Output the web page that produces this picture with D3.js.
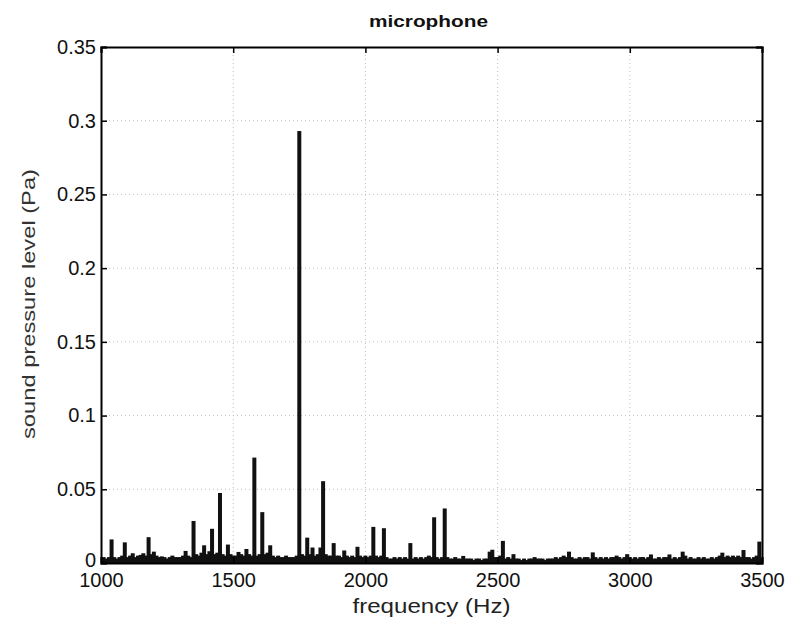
<!DOCTYPE html>
<html><head><meta charset="utf-8">
<script src="https://cdn.jsdelivr.net/npm/d3@7"></script>
<style>body{margin:0;background:#fff;} svg{display:block;}</style>
</head><body>
<svg id="chart" width="795" height="628"></svg>
<script>
// ---- data ----
const titleText = "microphone";
const xLabel = "frequency (Hz)";
const yLabel = "sound pressure level (Pa)";
const startHz = 1000;
const stepHz = 10;
// sound pressure (Pa) per 10 Hz bin, 1000 Hz .. 3500 Hz
const pressure = [
  0.003, 0.004, 0.003, 0.004, 0.016, 0.004, 0.003, 0.004, 0.005, 0.014,
  0.004, 0.005, 0.0066, 0.004, 0.005, 0.0055, 0.0066, 0.005, 0.0175, 0.006,
  0.0077, 0.005, 0.004, 0.0045, 0.004, 0.003, 0.004, 0.005, 0.004, 0.004,
  0.004, 0.005, 0.0082, 0.005, 0.004, 0.0285, 0.006, 0.005, 0.007, 0.012,
  0.006, 0.008, 0.0232, 0.006, 0.007, 0.0475, 0.006, 0.005, 0.0125, 0.006,
  0.005, 0.005, 0.0075, 0.006, 0.005, 0.0095, 0.006, 0.005, 0.0715, 0.005,
  0.006, 0.0345, 0.006, 0.007, 0.012, 0.005, 0.004, 0.005, 0.004, 0.004,
  0.005, 0.004, 0.004, 0.004, 0.005, 0.293, 0.006, 0.005, 0.0172, 0.006,
  0.0105, 0.005, 0.006, 0.0105, 0.0555, 0.006, 0.005, 0.005, 0.0135, 0.005,
  0.005, 0.004, 0.0085, 0.005, 0.004, 0.005, 0.004, 0.011, 0.005, 0.004,
  0.005, 0.004, 0.005, 0.0245, 0.005, 0.004, 0.005, 0.0236, 0.004, 0.003,
  0.003, 0.004, 0.003, 0.004, 0.003, 0.004, 0.003, 0.0135, 0.003, 0.004,
  0.003, 0.004, 0.003, 0.004, 0.005, 0.004, 0.031, 0.004, 0.003, 0.004,
  0.037, 0.004, 0.003, 0.003, 0.004, 0.003, 0.003, 0.0048, 0.003, 0.003,
  0.003, 0.002, 0.003, 0.003, 0.002, 0.003, 0.003, 0.0077, 0.009, 0.004,
  0.004, 0.005, 0.015, 0.003, 0.004, 0.003, 0.006, 0.003, 0.003, 0.002,
  0.003, 0.002, 0.003, 0.003, 0.004, 0.003, 0.003, 0.003, 0.002, 0.003,
  0.003, 0.003, 0.004, 0.003, 0.004, 0.005, 0.004, 0.0077, 0.004, 0.003,
  0.003, 0.004, 0.003, 0.004, 0.004, 0.003, 0.0072, 0.004, 0.003, 0.004,
  0.003, 0.004, 0.003, 0.004, 0.004, 0.005, 0.004, 0.003, 0.004, 0.006,
  0.004, 0.003, 0.004, 0.003, 0.004, 0.004, 0.003, 0.004, 0.0058, 0.003,
  0.003, 0.004, 0.003, 0.004, 0.004, 0.0058, 0.003, 0.004, 0.003, 0.004,
  0.0077, 0.005, 0.003, 0.004, 0.003, 0.003, 0.004, 0.003, 0.004, 0.003,
  0.003, 0.004, 0.003, 0.004, 0.005, 0.007, 0.004, 0.005, 0.004, 0.005,
  0.004, 0.005, 0.004, 0.0088, 0.004, 0.004, 0.003, 0.004, 0.005, 0.0145, 0.003
];
const xTicks = [1000, 1500, 2000, 2500, 3000, 3500];
const yTicks = [0, 0.05, 0.1, 0.15, 0.2, 0.25, 0.3, 0.35];
const xDomain = [1000, 3500];
const yDomain = [0, 0.35];

// ---- layout ----
const W = 795, H = 628;
const m = {left: 101, top: 47, right: 33, bottom: 65};
const pw = W - m.left - m.right, ph = H - m.top - m.bottom;
const font = "'Liberation Sans', Arial, Helvetica, sans-serif";

const svg = d3.select("#chart");
const g = svg.append("g").attr("transform", `translate(${m.left},${m.top})`);
const x = d3.scaleLinear().domain(xDomain).range([0, pw]);
const y = d3.scaleLinear().domain(yDomain).range([ph, 0]);

// grid
g.append("g").selectAll("line").data(xTicks.slice(1, -1)).join("line")
  .attr("x1", d => x(d)).attr("x2", d => x(d)).attr("y1", 0).attr("y2", ph)
  .attr("stroke", "#c0c0c0").attr("stroke-width", 1).attr("stroke-dasharray", "1,3");
g.append("g").selectAll("line").data(yTicks.slice(1, -1)).join("line")
  .attr("y1", d => y(d)).attr("y2", d => y(d)).attr("x1", 0).attr("x2", pw)
  .attr("stroke", "#c0c0c0").attr("stroke-width", 1).attr("stroke-dasharray", "1,3");

// bars
svg.append("defs").append("clipPath").attr("id", "clip")
  .append("rect").attr("width", pw).attr("height", ph);
const bars = pressure.map((v, i) => ({f: startHz + i * stepHz, v}));
const bw = 4;
g.append("g").attr("clip-path", "url(#clip)").selectAll("rect").data(bars).join("rect")
  .attr("x", d => x(d.f) - bw / 2).attr("width", bw)
  .attr("y", d => y(d.v)).attr("height", d => ph - y(d.v))
  .attr("fill", "#111");

// axes (ticks inward on all sides)
const tickLen = 6;
const axB = g.append("g").attr("transform", `translate(0,${ph})`)
  .call(d3.axisBottom(x).tickValues(xTicks).tickSize(-tickLen).tickPadding(13).tickFormat(d3.format("d")));
const axT = g.append("g")
  .call(d3.axisTop(x).tickValues(xTicks).tickSize(-tickLen).tickFormat(""));
const axL = g.append("g")
  .call(d3.axisLeft(y).tickValues(yTicks).tickSize(-tickLen).tickPadding(4).tickFormat(d => d === 0 ? "0" : d3.format("")(+d.toFixed(2))));
const axR = g.append("g").attr("transform", `translate(${pw},0)`)
  .call(d3.axisRight(y).tickValues(yTicks).tickSize(-tickLen).tickFormat(""));
[axB, axT, axL, axR].forEach(a => {
  a.select(".domain").attr("stroke", "#000").attr("stroke-width", 2);
  a.selectAll(".tick line").attr("stroke", "#000").attr("stroke-width", 1.5);
  a.selectAll("text").attr("font-family", font).attr("font-size", 20).attr("fill", "#111");
});
axL.selectAll(".tick text").attr("dx", "-1");
axL.selectAll(".tick").filter(d => d === 0).select("text").attr("dy", "0.15em");
axB.selectAll(".tick text").attr("dy", "0.55em");

// labels
svg.append("text").attr("x", m.left + pw / 2 - 3).attr("y", 27).attr("text-anchor", "middle")
  .attr("font-family", font).attr("font-size", 17).attr("font-weight", "bold").attr("fill", "#111")
  .attr("textLength", 119).attr("lengthAdjust", "spacingAndGlyphs").text(titleText);
svg.append("text").attr("x", m.left + pw / 2).attr("y", 613).attr("text-anchor", "middle")
  .attr("font-family", font).attr("font-size", 20).attr("fill", "#222")
  .attr("textLength", 158).attr("lengthAdjust", "spacingAndGlyphs").text(xLabel);
svg.append("text").attr("transform", `translate(35,${m.top + ph / 2 - 1}) rotate(-90)`)
  .attr("text-anchor", "middle")
  .attr("font-family", font).attr("font-size", 19).attr("fill", "#333")
  .attr("textLength", 270).attr("lengthAdjust", "spacingAndGlyphs").text(yLabel);
</script>
</body></html>
